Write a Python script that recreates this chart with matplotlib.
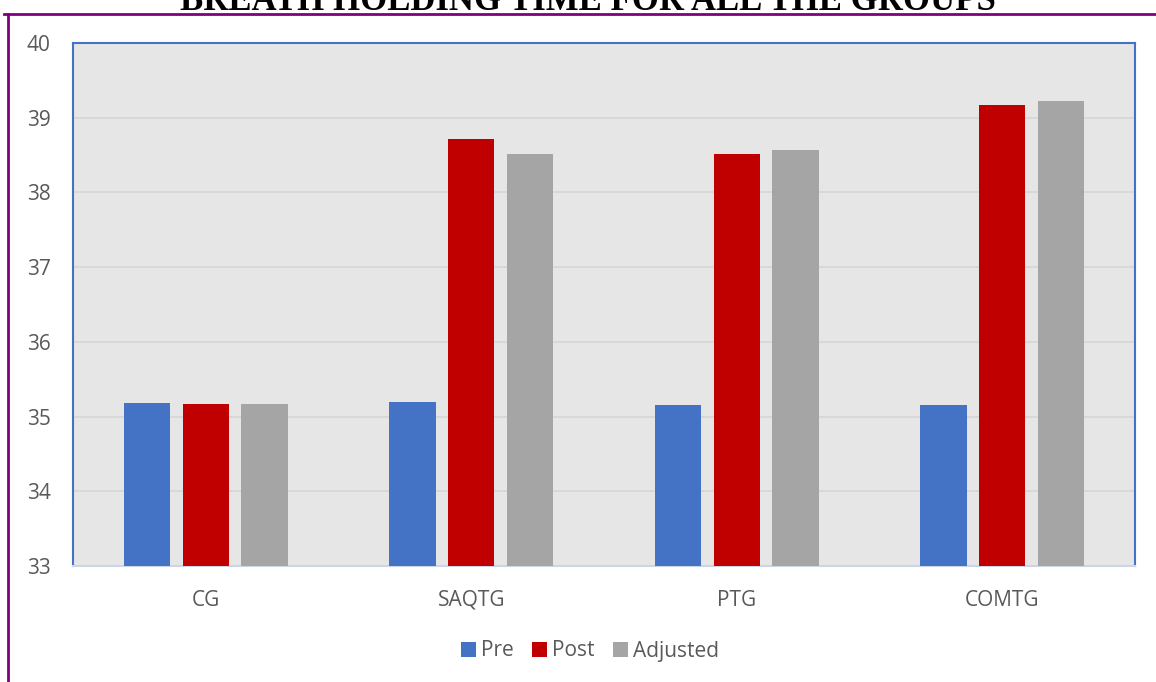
import matplotlib.pyplot as plt
import numpy as np
from matplotlib.lines import Line2D

groups = ["CG", "SAQTG", "PTG", "COMTG"]
pre = [35.18, 35.19, 35.16, 35.16]
post = [35.17, 38.71, 38.52, 39.17]
adjusted = [35.17, 38.52, 38.57, 39.23]
yticks = [33, 34, 35, 36, 37, 38, 39, 40]

plt.rcParams['font.family'] = ['Open Sans', 'DejaVu Sans']

fig = plt.figure(figsize=(11.56, 6.82), dpi=100)
ax = fig.add_axes([73/1156, 1-566/682, (1135-73)/1156, (566-43)/682])

x = np.arange(len(groups))
w = 0.175
step = 0.222
ax.bar(x - step, pre, w, color="#4472C4", label="Pre", zorder=3)
ax.bar(x, post, w, color="#C00000", label="Post", zorder=3)
ax.bar(x + step, adjusted, w, color="#A5A5A5", label="Adjusted", zorder=3)

ax.set_facecolor("#E6E6E6")
ax.set_ylim(33, 40)
ax.set_xlim(-0.5, len(groups) - 0.5)
ax.set_yticks(yticks)
ax.set_xticks(x)
ax.set_xticklabels(groups)
ax.grid(axis="y", color="#D6D6D6", linewidth=1.2, zorder=0)
ax.tick_params(axis="both", length=0, labelsize=15, colors="#595959")
ax.tick_params(axis="y", pad=16)
ax.tick_params(axis="x", pad=17)
for s in ["left", "top", "right"]:
    ax.spines[s].set_color("#4472C4")
    ax.spines[s].set_linewidth(1.5)
ax.spines["bottom"].set_color("#CCD5E6")
ax.spines["bottom"].set_linewidth(1.5)

ax.legend(loc="center", bbox_to_anchor=(590/1156, 1-651/682), bbox_transform=fig.transFigure,
          ncol=3, frameon=False, fontsize=15, handlelength=0.7, handleheight=0.7,
          handletextpad=0.25, columnspacing=0.9, labelcolor="#595959")

fig.text(588/1156, 1-10/682, "BREATH HOLDING TIME FOR ALL THE GROUPS", ha="center", va="baseline",
         family="Liberation Serif", weight="bold", size=25)

# purple frame around the chart
fig.add_artist(Line2D([4/1156, 1], [1-14/682, 1-14/682], color="#800080", lw=2))
fig.add_artist(Line2D([8/1156, 8/1156], [1-14/682, 0], color="#800080", lw=2))

fig.savefig("out.png", dpi=100)
